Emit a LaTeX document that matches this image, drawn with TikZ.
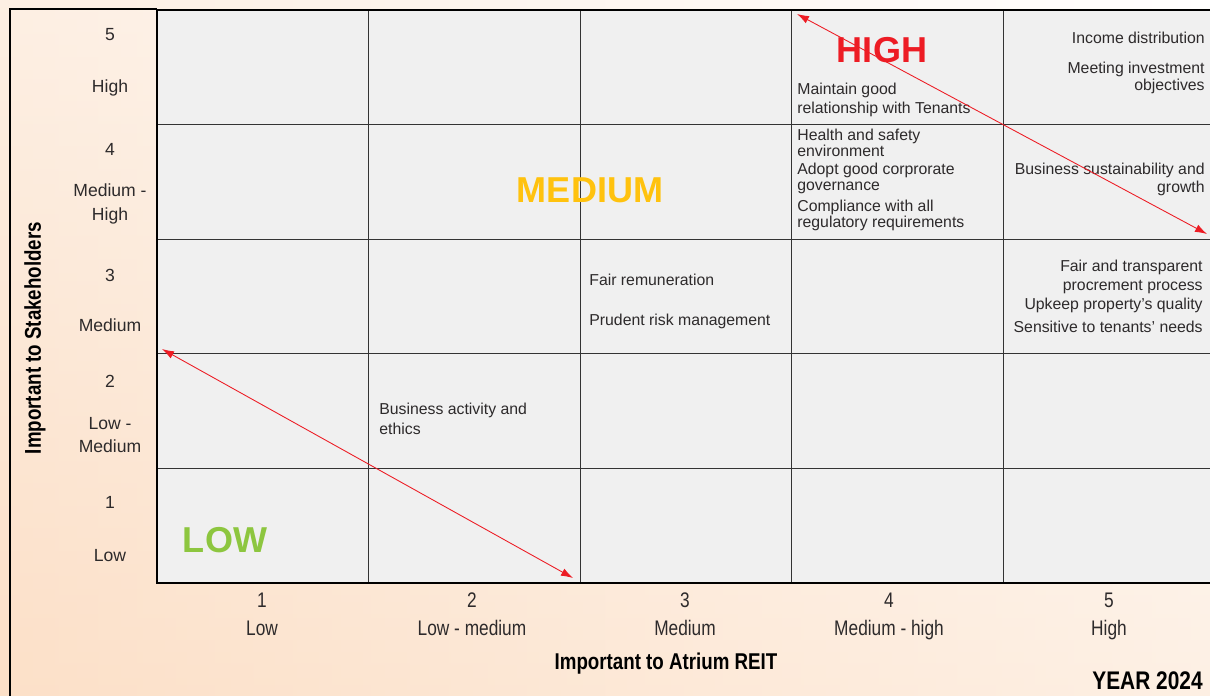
\documentclass[tikz,border=0pt]{standalone}
\usepackage{fontspec}
\setmainfont{Liberation Sans}
\newfontfamily\narrowfont[FakeStretch=0.82]{Liberation Sans}
\usetikzlibrary{arrows.meta}
\definecolor{peach}{RGB}{252,224,200}
\definecolor{cellgray}{RGB}{240,240,240}
\definecolor{highred}{RGB}{237,28,36}
\definecolor{medyellow}{RGB}{255,194,14}
\definecolor{lowgreen}{RGB}{141,198,63}
\definecolor{inkgray}{RGB}{45,42,43}

\begin{document}
\begin{tikzpicture}[x=0.02cm, y=-0.02cm,
    txt/.style={font=\fontsize{9}{10.8}\selectfont, text=inkgray, inner sep=0pt},
    txtl/.style={txt, align=left, anchor=west},
    txtr/.style={txt, align=right, anchor=east},
    ylab/.style={font=\fontsize{10}{13.4}\selectfont, text=inkgray, inner sep=0pt, align=center},
    xlab/.style={font=\narrowfont\fontsize{12}{14}\selectfont, text=inkgray, inner sep=0pt, anchor=base},
    title/.style={font=\narrowfont\bfseries\fontsize{13}{15}\selectfont, inner sep=0pt},
    level/.style={font=\bfseries\fontsize{20.5}{22}\selectfont, inner sep=0pt},
    gridline/.style={draw=black!80, line width=0.6pt},
    arr/.style={{Latex[length=2.4mm,width=1.6mm]}-{Latex[length=2.4mm,width=1.6mm]}, highred, line width=0.5pt}]

    \useasboundingbox (0,0) rectangle (1210,696);
    % Background
    \shade[top color=white, bottom color=peach] (0,0) rectangle (1210,696);
    \shade[left color=peach, right color=white, opacity=0.5] (0,0) rectangle (1210,696);

    % Cells and grid
    \fill[cellgray] (157,10) rectangle (1210,583);
    \foreach \i in {1,...,4}
        \draw[gridline] ({157+211.6*\i},10) -- ({157+211.6*\i},583);
    \foreach \j in {1,...,4}
        \draw[gridline] (157,{10+114.6*\j}) -- (1210,{10+114.6*\j});
    \draw[line width=1.5pt] (157,10) -- (1210,10);
    \draw[line width=1.7pt] (157,10) -- (157,583) -- (1210,583);
    % Frame
    \draw[line width=0.9pt] (10,700) -- (10,9) -- (157,9);

    % Stakeholder scale
    \foreach \n/\ny/\lab/\ly in {5/35/High/88, 4/149/{Medium -\\High}/204,
        3/275/Medium/325, 2/381/{Low -\\Medium}/435, 1/502/Low/556} {
        \node[ylab] (yn\n) at (110,\ny) {\n};
        \node[ylab] (yl\n) at (110,\ly) {\lab};
    }
    \node[title, rotate=90] (ytitle) at (35,338) {Important to Stakeholders};

    % REIT scale
    \foreach \n/\lab/\x in {1/Low/262, 2/Low - medium/472, 3/Medium/685,
        4/Medium - high/889, 5/High/1109} {
        \node[xlab] (xn\n) at (\x,607) {\n};
        \node[xlab] (xl\n) at (\x,635) {\lab};
    }
    \node[title] (xtitle) at (666,664) {Important to Atrium REIT};
    \node[title, font=\narrowfont\bfseries\fontsize{14.5}{16}\selectfont, anchor=east] (year) at (1203,681) {YEAR 2024};

    % Levels
    \node[level, text=highred] (high) at (882,50) {HIGH};
    \node[level, text=medyellow] (medium) at (590,190) {MEDIUM};
    \node[level, text=lowgreen] (low) at (225,540) {LOW};

    % Topics
    \node[txtl] (tenants) at (797,100) {Maintain good\\relationship with Tenants};
    \node[txtr] (income) at (1205,38) {Income distribution};
    \node[txtr, font=\fontsize{9}{9.6}\selectfont] (invest) at (1205,77.5) {Meeting investment\\objectives};
    \node[txtl, font=\fontsize{9}{7.9}\selectfont] (safety) at (797,143) {Health and safety\\environment};
    \node[txtl, font=\fontsize{9}{9.1}\selectfont] (govern) at (797,178) {Adopt good corprorate\\governance};
    \node[txtl, font=\fontsize{9}{9.1}\selectfont] (comply) at (797,215) {Compliance with all\\regulatory requirements};
    \node[txtr, font=\fontsize{9}{10.2}\selectfont] (growth) at (1205,179) {Business sustainability and\\growth};
    \node[txtl] (remun) at (589,280) {Fair remuneration};
    \node[txtl] (risk) at (589,321) {Prudent risk management};
    \node[txtr] (procure) at (1203,276.5) {Fair and transparent\\procrement process};
    \node[txtr] (upkeep) at (1203,305) {Upkeep property’s quality};
    \node[txtr] (needs) at (1203,327) {Sensitive to tenants’ needs};
    \node[txtl, font=\fontsize{9}{11.3}\selectfont] (ethics) at (379,419) {Business activity and\\ethics};

    % Diagonals
    \coordinate (hiA) at (797,14);
    \coordinate (hiB) at (1207,234);
    \coordinate (loA) at (162,349);
    \coordinate (loB) at (573,578);
    \draw[arr] (hiA) -- (hiB);
    \draw[arr] (loA) -- (loB);
\end{tikzpicture}
\end{document}
